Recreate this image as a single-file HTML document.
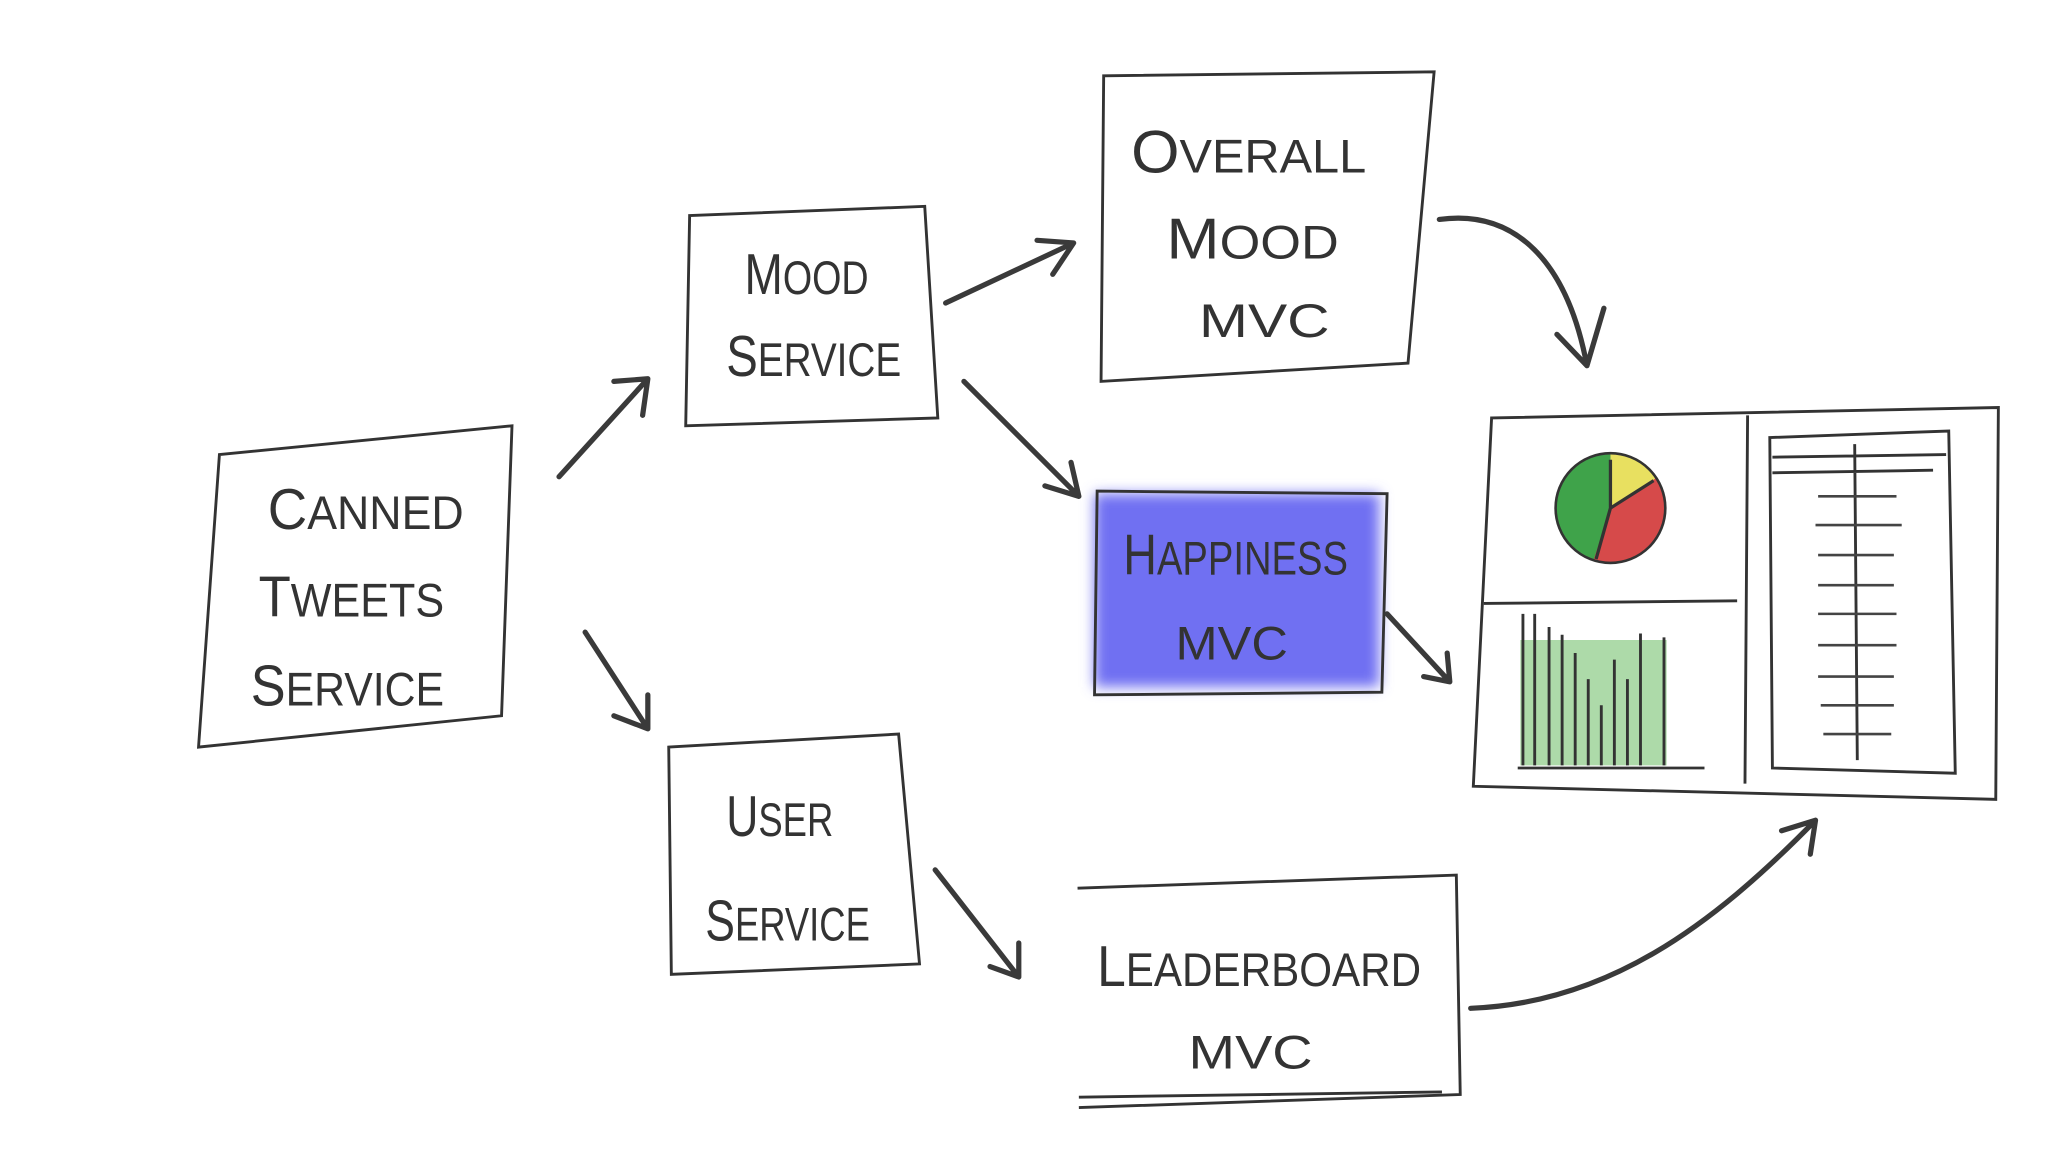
<!DOCTYPE html>
<html><head><meta charset="utf-8"><style>
html,body{margin:0;padding:0;background:#fff;}
svg{display:block;}
text{font-family:"Liberation Sans",sans-serif;fill:#333;font-size:36px;}
.b{fill:none;stroke:#333;stroke-width:2.2;}
.a{fill:none;stroke:#3a3a3a;stroke-width:4;stroke-linecap:round;stroke-linejoin:round;}
.t{stroke:#444;stroke-width:2;}
</style></head><body>
<svg width="2048" height="1152" viewBox="0 0 1568 882" xmlns="http://www.w3.org/2000/svg">
<defs><filter id="blur"><feGaussianBlur stdDeviation="5"/></filter></defs>
<!-- Canned tweets -->
<path class="b" d="M168 348 L392 326 L384 548 L152 572 Z"/>
<text x="205" y="405" textLength="150" lengthAdjust="spacingAndGlyphs"><tspan font-size="44">C</tspan>ANNED</text>
<text x="198" y="472" textLength="142" lengthAdjust="spacingAndGlyphs"><tspan font-size="44">T</tspan>WEETS</text>
<text x="192" y="540" textLength="148" lengthAdjust="spacingAndGlyphs"><tspan font-size="44">S</tspan>ERVICE</text>
<!-- Mood service -->
<path class="b" d="M528 165 L708 158 L718 320 L525 326 Z"/>
<text x="570" y="225" textLength="95" lengthAdjust="spacingAndGlyphs"><tspan font-size="44">M</tspan>OOD</text>
<text x="556" y="288" textLength="134" lengthAdjust="spacingAndGlyphs"><tspan font-size="44">S</tspan>ERVICE</text>
<!-- Overall mood -->
<path class="b" d="M845 58 L1098 55 L1078 278 L843 292 Z"/>
<text x="866" y="132" textLength="180" lengthAdjust="spacingAndGlyphs"><tspan font-size="46">O</tspan>VERALL</text>
<text x="893" y="198" textLength="132" lengthAdjust="spacingAndGlyphs"><tspan font-size="44">M</tspan>OOD</text>
<text x="918" y="258" textLength="100" lengthAdjust="spacingAndGlyphs">MVC</text>
<!-- Happiness -->
<rect x="838" y="378" width="218" height="148" fill="#6f6ff2" filter="url(#blur)"/>
<path class="b" d="M840 376 L1062 378 L1058 530 L838 532 Z"/>
<text x="860" y="440" textLength="172" lengthAdjust="spacingAndGlyphs"><tspan font-size="44">H</tspan>APPINESS</text>
<text x="900" y="505" textLength="86" lengthAdjust="spacingAndGlyphs">MVC</text>
<!-- User service -->
<path class="b" d="M512 572 L688 562 L704 738 L514 746 Z"/>
<text x="556" y="640" textLength="82" lengthAdjust="spacingAndGlyphs"><tspan font-size="44">U</tspan>SER</text>
<text x="540" y="720" textLength="126" lengthAdjust="spacingAndGlyphs"><tspan font-size="44">S</tspan>ERVICE</text>
<!-- Leaderboard -->
<path class="b" d="M825 680 L1115 670 L1118 838 L826 848 M826 840 L1104 836"/>
<text x="840" y="755" textLength="248" lengthAdjust="spacingAndGlyphs"><tspan font-size="44">L</tspan>EADERBOARD</text>
<text x="910" y="818" textLength="95" lengthAdjust="spacingAndGlyphs">MVC</text>
<!-- Dashboard -->
<path class="b" d="M1142 320 L1530 312 L1528 612 L1128 602 Z"/>
<path class="b" d="M1338 318 L1336 600 M1136 462 L1330 460"/>
<circle cx="1233" cy="389" r="42" fill="#d64a4a"/>
<path d="M1233 389 L1233 347 A42 42 0 0 1 1268 366 Z" fill="#e8e060"/>
<path d="M1233 389 L1233 347 A42 42 0 0 0 1220 429 Z" fill="#3fa34a"/>
<circle cx="1233" cy="389" r="42" fill="none" stroke="#333" stroke-width="2"/>
<path d="M1233 389 L1233 352 M1233 389 L1266 368 M1233 389 L1222 428" stroke="#333" stroke-width="2.5"/>
<rect x="1164" y="490" width="112" height="96" fill="#9fd39a" opacity=".85"/>
<path class="b" d="M1166 470 L1166 586 M1175 470 L1175 586 M1186 480 L1186 586 M1196 486 L1196 586 M1206 500 L1206 586 M1216 520 L1216 586 M1226 540 L1226 586 M1236 505 L1236 586 M1246 520 L1246 586 M1256 485 L1256 586 M1274 488 L1274 586 M1162 588 L1305 588"/>
<path class="b" d="M1355 335 L1492 330 L1497 592 L1357 588 Z M1357 350 L1490 348 M1357 362 L1480 360 M1420 340 L1422 582"/>
<g class="t"><path d="M1392 380 L1452 380 M1390 402 L1456 402 M1392 425 L1450 425 M1392 448 L1450 448 M1392 470 L1452 470 M1392 494 L1452 494 M1392 518 L1450 518 M1394 540 L1450 540 M1396 562 L1448 562"/></g>
<!-- Arrows -->
<path class="a" d="M428 365 L496 290 M470 292 L496 290 L492 318"/>
<path class="a" d="M448 484 L496 558 M470 548 L496 558 L496 532"/>
<path class="a" d="M724 232 L822 186 M794 184 L822 186 L806 210"/>
<path class="a" d="M738 292 L826 380 M800 372 L826 380 L820 354"/>
<path class="a" d="M1102 168 C1160 160 1200 200 1215 280 M1192 256 L1215 280 L1228 236"/>
<path class="a" d="M1062 470 L1110 522 M1090 518 L1110 522 L1108 500"/>
<path class="a" d="M716 666 L780 748 M758 740 L780 748 L780 722"/>
<path class="a" d="M1126 772 C1230 768 1310 710 1390 628 M1364 636 L1390 628 L1386 654"/>
</svg>
</body></html>
